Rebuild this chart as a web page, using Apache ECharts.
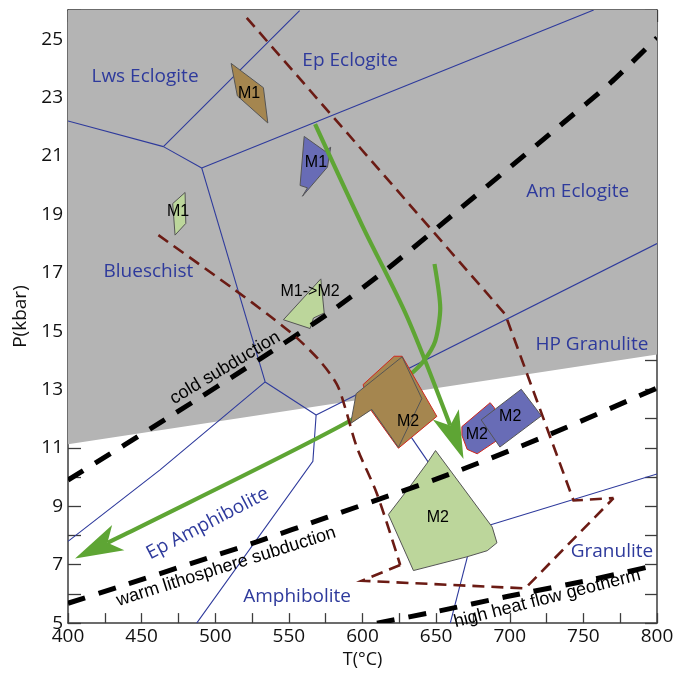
<!DOCTYPE html>
<html>
<head>
<meta charset="utf-8">
<script src="https://cdn.jsdelivr.net/npm/echarts@6/dist/echarts.min.js"></script>
<style>
  html, body { margin: 0; padding: 0; background: #ffffff; }
  #chart { width: 678px; height: 674px; }
</style>
</head>
<body>
<div id="chart"></div>
<script>
// ---- Axes -------------------------------------------------------------
const tempRange = [400, 800];      // T (°C)
const pressureRange = [5, 26];     // P (kbar)

// ---- High-pressure field (shaded) ------------------------------------
const highPressureField = [[400, 11.13], [800, 14.2], [800, 26], [400, 26]];

// ---- Metamorphic facies boundaries -----------------------------------
const faciesBoundaries = [
  [[400, 22.2], [464.8, 21.32]],
  [[464.8, 21.32], [557.3, 25.98]],
  [[464.8, 21.32], [490.8, 20.59]],
  [[490.8, 20.59], [757, 26]],
  [[490.8, 20.59], [533.9, 13.26]],
  [[533.9, 13.26], [462.5, 10.25], [400, 7.8]],
  [[533.9, 13.26], [568.5, 12.13]],
  [[568.5, 12.13], [800, 18.0]],
  [[568.5, 12.13], [566.3, 10.54], [487.4, 5]],
  [[608.8, 13.16], [676, 8.2]],
  [[676, 8.2], [800, 10.11]],
  [[676, 8.2], [659.6, 5]]
];

const faciesLabels = [
  [452.3, 23.71, 'Lws Eclogite'],
  [591.6, 24.27, 'Ep Eclogite'],
  [746.2, 19.79, 'Am Eclogite'],
  [454.6, 17.04, 'Blueschist'],
  [755.8, 14.54, 'HP Granulite'],
  [769.4, 7.44, 'Granulite'],
  [555.6, 5.91, 'Amphibolite'],
  [494.8, 8.41, 'Ep Amphibolite']
];

// ---- Geotherms --------------------------------------------------------
const coldSubduction = [[400, 9.9], [471.6, 12.15], [530.5, 14.05], [578, 15.65], [621, 17.3],
  [666.4, 19.2], [734.3, 22.05], [768.3, 23.5], [800, 25.05]];
const warmSubduction = [[400, 5.68], [435.3, 6.25], [501, 7.33], [528.2, 7.78], [575.8, 8.62],
  [659.6, 10.11], [727.5, 11.47], [800, 13.05]];
const highHeatFlow = [[609.8, 5.0], [650.5, 5.4], [698.1, 5.91], [756.9, 6.5], [800, 6.99]];

const geothermLabels = [
  [506.7, 13.74, 'cold subduction'],
  [507.4, 6.93, 'warm lithosphere subduction'],
  [725.5, 5.84, 'high heat flow geotherm']
];

// ---- Dashed P-T field outlines ---------------------------------------
const eastField = [[521.4, 25.73], [696.9, 15.58], [743.3, 9.2], [770.5, 9.28]];
const westFieldCurve = [[461.4, 18.29], [512.3, 16.45], [537.3, 15.51], [555.4, 14.77], [571.2, 13.97],
  [582.6, 13.18], [588.2, 12.38], [596.2, 11.02], [609.8, 9.43], [625.6, 6.99]];
const westFieldBase = [[625.6, 6.99], [599.6, 6.45], [710.5, 6.19], [770.5, 9.28]];

// ---- P-T paths (arrows) ----------------------------------------------
const exhumationPath = [[567.8, 22.09], [600, 18.6], [630.1, 15.51], [668.6, 10.62]];
const coolingPath = [[648.9, 17.3], [652.8, 15.79], [649.4, 14.66], [641.4, 13.97], [632.4, 13.52],
  [618.8, 13.06], [591.6, 11.93], [439.9, 8.07], [404.8, 7.21]];

// ---- Sample P-T estimates --------------------------------------------
const m1Brown = [[510.8, 24.17], [532.7, 23.34], [535.7, 22.13], [515.0, 23.06]];
const m1Blue = [[560.4, 21.67], [574.6, 21.16], [578.4, 21.3], [576.2, 20.62], [559.2, 19.62],
  [562.6, 19.91], [557.6, 19.99]];
const m1Green = [[471.1, 19.37], [479.5, 19.75], [480.0, 18.69], [472.7, 18.29]];
const m1m2Green = [[546.3, 15.39], [571.7, 16.79], [574.0, 15.62], [566.7, 15.45], [564.4, 15.09]];
const m2BrownOuter = [[600.4, 13.17], [621.5, 14.14], [626.9, 14.14], [650.5, 12.08], [624.4, 10.99], [605.2, 12.33]];
const m2BrownInner = [[592.0, 11.84], [595.7, 12.86], [626.9, 14.12], [640.3, 12.69], [624.4, 11.02], [606.3, 12.32]];
const m2BlueWest = [[667.5, 11.73], [686.7, 12.55], [689.5, 12.38], [691.5, 11.26], [677.9, 10.80],
  [671.1, 10.95], [667.5, 11.43]];
const m2BlueEast = [[680.6, 11.96], [707.8, 13.01], [721.5, 12.10], [693.3, 11.03]];
const m2Green = [[617.6, 8.72], [632.4, 9.69], [643.9, 10.48], [649.6, 10.91], [688.1, 8.29],
  [691.3, 7.75], [684.7, 7.48], [670.9, 7.27], [634.6, 6.80]];

const sampleLabels = [
  [523.0, 23.12, 'M1'],
  [568.4, 20.77, 'M1'],
  [474.7, 19.09, 'M1'],
  [564.4, 16.34, 'M1->M2'],
  [631.0, 11.90, 'M2'],
  [677.6, 11.46, 'M2'],
  [700.3, 12.09, 'M2'],
  [651.1, 8.60, 'M2']
];

// ---- Styling ----------------------------------------------------------
const NAVY = '#2e3a9c';
const MAROON = '#6b1b14';
const GREEN = '#5ea534';
const FRAME = '#3c3c3c';
const SANS = '"Open Sans", "DejaVu Sans", sans-serif';
const ARIAL = '"Liberation Sans", Arial, sans-serif';
const labelAngles = { 'Ep Amphibolite': 27.5, 'cold subduction': 31, 'warm lithosphere subduction': 17.5,
  'high heat flow geotherm': 14.4 };

// Polyline drawn in data space through the cartesian grid.
function pathSeries(points, color, width, dash, z, smooth) {
  return {
    type: 'custom', coordinateSystem: 'cartesian2d', silent: true, z: z, animation: false, clip: true,
    data: [points[0]],
    renderItem: function (params, api) {
      return {
        type: 'polyline',
        shape: { points: points.map(function (p) { return api.coord(p); }), smooth: smooth || 0 },
        style: { stroke: color, lineWidth: width, fill: null, lineDash: dash || null, lineCap: 'butt', lineJoin: 'miter' }
      };
    }
  };
}

function polygonSeries(points, fill, stroke, strokeWidth, z) {
  return {
    type: 'custom', coordinateSystem: 'cartesian2d', silent: true, z: z, animation: false,
    data: [points[0]],
    renderItem: function (params, api) {
      return {
        type: 'polygon',
        shape: { points: points.map(function (p) { return api.coord(p); }) },
        style: { fill: fill, stroke: stroke, lineWidth: strokeWidth, lineJoin: 'miter' }
      };
    }
  };
}

// Thick path with a notched arrowhead at its last point.
function arrowSeries(points, smooth, z) {
  return {
    type: 'custom', coordinateSystem: 'cartesian2d', silent: true, z: z, animation: false,
    data: [points[points.length - 1]],
    renderItem: function (params, api) {
      const px = points.map(function (p) { return api.coord(p); });
      const tip = px[px.length - 1];
      const prev = px[px.length - 2];
      let dx = tip[0] - prev[0], dy = tip[1] - prev[1];
      const len = Math.hypot(dx, dy);
      dx /= len; dy /= len;
      const nx = -dy, ny = dx;
      const L = 48, W = 14, N = 12;
      const back = [tip[0] - L * dx, tip[1] - L * dy];
      const notch = [tip[0] - (L - N) * dx, tip[1] - (L - N) * dy];
      const shaft = px.slice(0, -1).concat([notch]);
      return {
        type: 'group',
        children: [
          {
            type: 'polyline',
            shape: { points: shaft, smooth: smooth },
            style: { stroke: GREEN, lineWidth: 4.2, fill: null, lineCap: 'butt' }
          },
          {
            type: 'polygon',
            shape: { points: [tip, [back[0] + W * nx, back[1] + W * ny], notch, [back[0] - W * nx, back[1] - W * ny]] },
            style: { fill: GREEN }
          }
        ]
      };
    }
  };
}

function textSeries(items, color, font, z) {
  return {
    type: 'custom', coordinateSystem: 'cartesian2d', silent: true, z: z, animation: false,
    data: items.map(function (d) { return [d[0], d[1]]; }),
    renderItem: function (params, api) {
      const item = items[params.dataIndex];
      const pt = api.coord([item[0], item[1]]);
      const ang = (labelAngles[item[2]] || 0) * Math.PI / 180;
      return {
        type: 'text', x: pt[0], y: pt[1], rotation: ang,
        style: {
          text: item[2], fill: color, font: font,
          align: 'center', verticalAlign: 'middle', textAlign: 'center', textVerticalAlign: 'middle'
        }
      };
    }
  };
}

const series = [];
series.push(polygonSeries(highPressureField, '#b4b4b4', null, 0, 1));
faciesBoundaries.forEach(function (seg) { series.push(pathSeries(seg, NAVY, 1.1, null, 2)); });
series.push(textSeries(faciesLabels, NAVY, '19px ' + SANS, 3));
series.push(arrowSeries(coolingPath, 0.25, 4));

[[m1Brown, '#a5864f', '#555555'], [m1Blue, '#686cb6', '#555555'], [m1Green, '#bcd69b', '#555555'],
 [m1m2Green, '#bcd69b', '#555555'], [m2BrownOuter, '#a5864f', '#d0261c'], [m2BrownInner, '#a5864f', '#555555'],
 [m2BlueWest, '#686cb6', '#d0261c'], [m2BlueEast, '#686cb6', '#555555'], [m2Green, '#bcd69b', '#555555']]
  .forEach(function (p) { series.push(polygonSeries(p[0], p[1], p[2], 1, 5)); });

series.push(pathSeries(coldSubduction, '#000000', 5, [18, 14], 6, 0.25));
series.push(pathSeries(warmSubduction, '#000000', 5, [18, 14], 6, 0.25));
series.push(pathSeries(highHeatFlow, '#000000', 5, [18, 14], 6, 0.25));

series.push(pathSeries(eastField, MAROON, 2.6, [12, 7], 6));
series.push(pathSeries(westFieldCurve, MAROON, 2.6, [12, 7], 6, 0.3));
series.push(pathSeries(westFieldBase, MAROON, 2.6, [12, 7], 6));

series.push(arrowSeries(exhumationPath, 0.3, 7));
series.push(textSeries(geothermLabels, '#000000', '18px ' + ARIAL, 8));
series.push(textSeries(sampleLabels, '#000000', '16px ' + ARIAL, 8));

const axisLineStyle = { color: FRAME, width: 1.5 };
const tickStyle = { color: FRAME, width: 1.3 };

const option = {
  animation: false,
  backgroundColor: '#ffffff',
  grid: { left: 68, right: 21, top: 10, bottom: 47, containLabel: false },
  xAxis: [
    {
      type: 'value', min: tempRange[0], max: tempRange[1], interval: 25, position: 'bottom',
      name: 'T(°C)', nameLocation: 'middle', nameGap: 22,
      nameTextStyle: { fontSize: 18, fontFamily: SANS, color: '#111111' },
      axisLine: { show: true, lineStyle: axisLineStyle },
      axisTick: { show: true, inside: true, length: 10, lineStyle: tickStyle },
      axisLabel: {
        fontSize: 19, fontFamily: SANS, color: '#111111', margin: 4,
        showMinLabel: true, showMaxLabel: true,
        formatter: function (v) { return v % 50 === 0 ? String(v) : ''; }
      },
      splitLine: { show: false }
    },
    {
      type: 'value', min: tempRange[0], max: tempRange[1], interval: 25, position: 'top',
      axisLine: { show: true, lineStyle: axisLineStyle },
      axisTick: { show: true, inside: true, length: 12, lineStyle: tickStyle },
      axisLabel: { show: false }, splitLine: { show: false }
    }
  ],
  yAxis: [
    {
      type: 'value', min: pressureRange[0], max: pressureRange[1], interval: 1, position: 'left',
      name: 'P(kbar)', nameLocation: 'middle', nameGap: 36, nameRotate: 90,
      nameTextStyle: { fontSize: 19, fontFamily: SANS, color: '#111111' },
      axisLine: { show: true, lineStyle: axisLineStyle },
      axisTick: { show: true, inside: true, length: 13, lineStyle: tickStyle },
      axisLabel: {
        fontSize: 19, fontFamily: SANS, color: '#111111', margin: 5,
        showMinLabel: true, showMaxLabel: true,
        formatter: function (v) { return v % 2 === 1 ? String(v) : ''; }
      },
      splitLine: { show: false }
    },
    {
      type: 'value', min: pressureRange[0], max: pressureRange[1], interval: 1, position: 'right',
      axisLine: { show: true, lineStyle: axisLineStyle },
      axisTick: { show: true, inside: true, length: 12, lineStyle: tickStyle },
      axisLabel: { show: false }, splitLine: { show: false }
    }
  ],
  series: series
};

const chart = echarts.init(document.getElementById('chart'), null, { renderer: 'canvas' });
chart.setOption(option);
</script>
</body>
</html>
